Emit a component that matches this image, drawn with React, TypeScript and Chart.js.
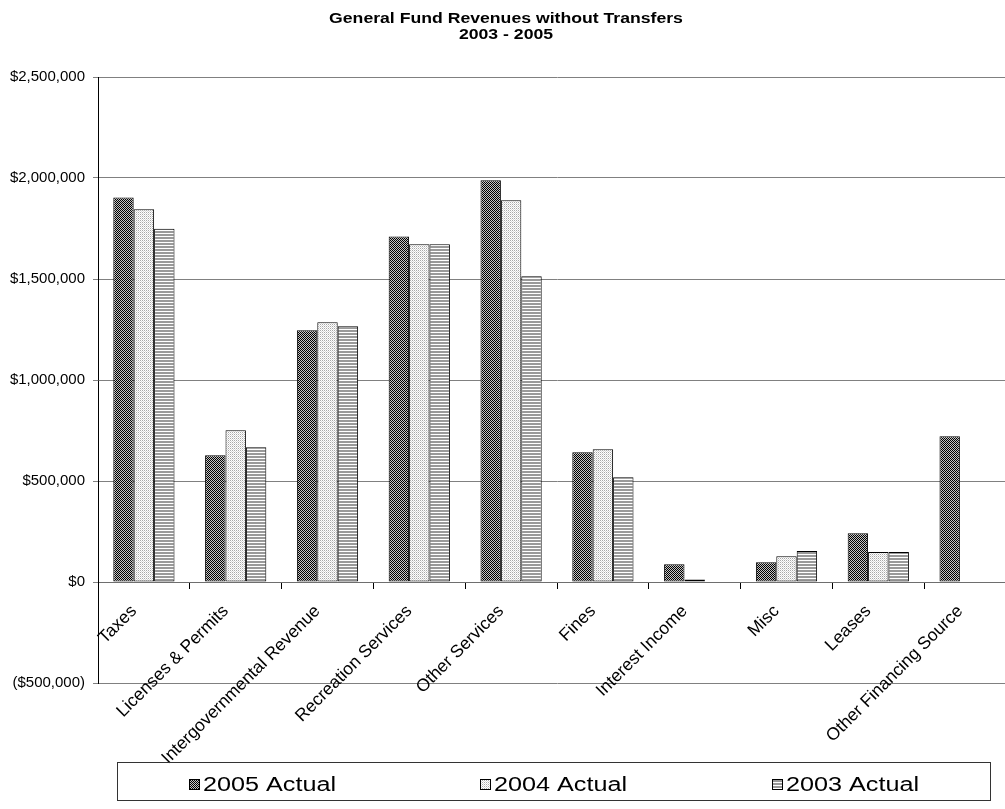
import React, { useEffect, useRef } from 'react';
import { Chart, registerables } from 'chart.js';

Chart.register(...registerables);

// Revenue categories and yearly actuals (US dollars)
const categories = [
  'Taxes',
  'Licenses & Permits',
  'Intergovernmental Revenue',
  'Recreation Services',
  'Other Services',
  'Fines',
  'Interest Income',
  'Misc',
  'Leases',
  'Other Financing Source',
];
const actual2005 = [1903000, 627000, 1246000, 1711000, 1989000, 642000, 88000, 98000, 241000, 721000];
const actual2004 = [1845000, 751000, 1286000, 1672000, 1890000, 657000, 12000, 127000, 148000, null];
const actual2003 = [1749000, 667000, 1266000, 1672000, 1513000, 518000, null, 153000, 148000, null];
const seriesNames = ['2005 Actual', '2004 Actual', '2003 Actual'];
const titleLines = ['General Fund Revenues without Transfers', '2003 - 2005'];
const yMin = -500000;
const yMax = 2500000;
const yStep = 500000;

const FONT = '"Liberation Sans", Arial, sans-serif';

// Small repeating fills in the style of classic office chart hatching
function makePattern(kind: string): CanvasPattern | string {
  const c = document.createElement('canvas');
  const size = kind === 'stripes' ? 3 : 2;
  c.width = size;
  c.height = size;
  const g = c.getContext('2d');
  if (!g) return '#888';
  g.fillStyle = '#fff';
  g.fillRect(0, 0, size, size);
  if (kind === 'dense') {
    g.fillStyle = '#000';
    g.fillRect(0, 0, 1, 1);
    g.fillRect(1, 1, 1, 1);
    g.fillStyle = '#c4c4c4';
    g.fillRect(1, 0, 1, 1);
    g.fillRect(0, 1, 1, 1);
  } else if (kind === 'dots') {
    g.fillStyle = '#a8a8a8';
    g.fillRect(0, 0, 1, 1);
    g.fillStyle = '#d8d8d8';
    g.fillRect(1, 1, 1, 1);
  } else {
    g.fillStyle = '#9a9a9a';
    g.fillRect(0, 0, size, 2);
  }
  const p = g.createPattern(c, 'repeat');
  return p || '#888';
}

function money(v: number): string {
  const s = '$' + Math.abs(v).toLocaleString('en-US');
  return v < 0 ? '(' + s + ')' : s;
}

// Title and boxed legend, drawn with a slight horizontal stretch
const decorPlugin = {
  id: 'decor',
  afterDraw(chart: any) {
    const ctx = chart.ctx as CanvasRenderingContext2D;
    ctx.save();
    ctx.fillStyle = '#000';
    ctx.textBaseline = 'alphabetic';
    ctx.textAlign = 'center';
    ctx.font = 'bold 14px ' + FONT;
    const titleX = 506;
    const titleBase = [23, 39];
    titleLines.forEach((t, i) => {
      ctx.save();
      ctx.translate(titleX, titleBase[i]);
      ctx.scale(1.26, 1);
      ctx.fillText(t, 0, 0);
      ctx.restore();
    });

    // legend frame
    ctx.strokeStyle = '#333';
    ctx.lineWidth = 1;
    ctx.strokeRect(117.5, 762.5, 873, 38);

    const swatchX = [189, 480, 772];
    ctx.textAlign = 'left';
    ctx.font = '20px ' + FONT;
    chart.data.datasets.forEach((ds: any, i: number) => {
      const x = swatchX[i];
      ctx.fillStyle = ds.backgroundColor;
      ctx.fillRect(x, 779, 11, 11);
      ctx.strokeStyle = '#000';
      ctx.strokeRect(x + 0.5, 779.5, 10, 10);
      ctx.fillStyle = '#000';
      ctx.save();
      ctx.translate(x + 14, 791);
      ctx.scale(1.26, 1);
      ctx.fillText(seriesNames[i], 0, 0);
      ctx.restore();
    });
    ctx.restore();
  },
};

export default function App() {
  const ref = useRef<HTMLCanvasElement | null>(null);

  useEffect(() => {
    const canvas = ref.current;
    if (!canvas) return;
    const fills = [makePattern('dense'), makePattern('dots'), makePattern('stripes')];
    const series = [actual2005, actual2004, actual2003];

    const chart = new Chart(canvas, {
      type: 'bar',
      data: {
        labels: categories,
        datasets: series.map((d, i) => ({
          label: seriesNames[i],
          data: d,
          backgroundColor: fills[i] as any,
          borderColor: '#000',
          borderWidth: 1,
          borderSkipped: false,
          categoryPercentage: 0.667,
          barPercentage: 1.0,
        })),
      },
      options: {
        responsive: false,
        animation: false,
        devicePixelRatio: 1,
        layout: { padding: { left: 0, top: 77, right: 4, bottom: 126 } },
        plugins: {
          legend: { display: false },
          title: { display: false },
          tooltip: { enabled: false },
        },
        scales: {
          x: {
            position: { y: 0 } as any,
            offset: true,
            grid: {
              display: true,
              drawOnChartArea: false,
              drawTicks: true,
              tickLength: 6,
              color: '#000',
              offset: true,
            },
            border: { display: true, color: '#6e6e6e', width: 1 },
            ticks: {
              autoSkip: false,
              minRotation: 45,
              maxRotation: 45,
              padding: 13,
              labelOffset: -10,
              color: '#000',
              font: { family: FONT, size: 17.5 },
            },
          },
          y: {
            min: yMin,
            max: yMax,
            afterFit: (s: any) => {
              s.width = 98;
            },
            grid: {
              color: '#808080',
              lineWidth: 1,
              tickLength: 5,
              drawTicks: true,
            },
            border: { display: true, color: '#000', width: 1 },
            ticks: {
              stepSize: yStep,
              padding: 8,
              color: '#000',
              font: { family: FONT, size: 15 },
              callback: (v: any) => money(Number(v)),
            },
          },
        },
      },
      plugins: [decorPlugin],
    });
    return () => chart.destroy();
  }, []);

  return (
    <div
      style={{
        position: 'fixed',
        left: 0,
        top: 0,
        width: 1005,
        height: 809,
        overflow: 'hidden',
        background: '#fff',
      }}
    >
      <canvas ref={ref} width={1020} height={809} style={{ display: 'block', width: 1020, height: 809 }} />
    </div>
  );
}
